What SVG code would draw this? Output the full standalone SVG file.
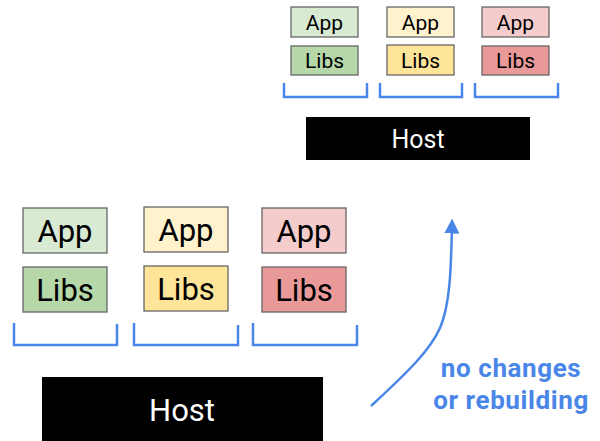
<svg xmlns="http://www.w3.org/2000/svg" width="600" height="441" viewBox="0 0 600 441">
<style>
.box{stroke:#666;stroke-width:1.3}
.g1{fill:#d9ead3}.g2{fill:#b6d7a8}
.y1{fill:#fff2cc}.y2{fill:#ffe599}
.r1{fill:#f4cccc}.r2{fill:#ea9999}
.t{font-family:Roboto,"Liberation Sans",sans-serif;fill:#000;text-anchor:middle}
.s{font-size:21px}
.b{font-size:31px}
.br{fill:none;stroke:#4a86e8;stroke-width:2.5}
.host{fill:#000}
.ht{font-family:Roboto,"Liberation Sans",sans-serif;fill:#fff;text-anchor:middle}
.lbl{font-family:Roboto,"Liberation Sans",sans-serif;font-weight:bold;fill:#4a86e8;text-anchor:middle;font-size:26px;letter-spacing:0.6px}
</style>
<defs>
<marker id="ah" viewBox="0 0 10 10" refX="5" refY="5" markerWidth="6" markerHeight="6" orient="auto" markerUnits="strokeWidth">
<path d="M0,0L10,5L0,10z" fill="#4a86e8"/>
</marker>
</defs>
<rect width="600" height="441" fill="#fff"/>
<g id="top-stack-1">
<rect class="box g1" x="291" y="7" width="67" height="30"/><text class="t s" x="324.5" y="30">App</text>
<rect class="box g2" x="291" y="46" width="67" height="29"/><text class="t s" x="324.5" y="68">Libs</text>
</g>
<g id="top-stack-2">
<rect class="box y1" x="387" y="7" width="67" height="30"/><text class="t s" x="420.5" y="30">App</text>
<rect class="box y2" x="387" y="45" width="67" height="30"/><text class="t s" x="420.5" y="68">Libs</text>
</g>
<g id="top-stack-3">
<rect class="box r1" x="482" y="7" width="67" height="30"/><text class="t s" x="515.5" y="30">App</text>
<rect class="box r2" x="482" y="46" width="67" height="29"/><text class="t s" x="515.5" y="68">Libs</text>
</g>
<g id="top-brackets">
<path class="br" d="M284,83V97H367V83"/>
<path class="br" d="M380,83V97H462V83"/>
<path class="br" d="M475,83V97H558V83"/>
</g>
<g id="top-host">
<rect class="host" x="306" y="117" width="224" height="43"/>
<text class="ht" x="418" y="148" font-size="25">Host</text>
</g>
<g id="bottom-stack-1">
<rect class="box g1" x="23" y="208" width="84" height="45"/><text class="t b" x="65" y="242">App</text>
<rect class="box g2" x="23" y="267" width="84" height="45"/><text class="t b" x="65" y="301">Libs</text>
</g>
<g id="bottom-stack-2">
<rect class="box y1" x="144" y="207" width="84" height="45"/><text class="t b" x="186" y="241">App</text>
<rect class="box y2" x="144" y="266" width="84" height="45"/><text class="t b" x="186" y="300">Libs</text>
</g>
<g id="bottom-stack-3">
<rect class="box r1" x="262" y="208" width="84" height="45"/><text class="t b" x="304" y="242">App</text>
<rect class="box r2" x="262" y="267" width="84" height="45"/><text class="t b" x="304" y="301">Libs</text>
</g>
<g id="bottom-brackets">
<path class="br" d="M14,323V345H117V324"/>
<path class="br" d="M134,323V345H238V325"/>
<path class="br" d="M253,323V345H357V325"/>
</g>
<g id="bottom-host">
<rect class="host" x="42" y="377" width="281" height="64"/>
<text class="ht" x="182" y="421" font-size="31">Host</text>
</g>
<g id="connectors">
<path d="M371,406C410,370 430,350 440,328C450,305 451,270 452,226" fill="none" stroke="#4a86e8" stroke-width="2.5" marker-end="url(#ah)"/>
</g>
<g id="label">
<text class="lbl" x="511" y="377">no changes</text>
<text class="lbl" x="511" y="409">or rebuilding</text>
</g>
</svg>
